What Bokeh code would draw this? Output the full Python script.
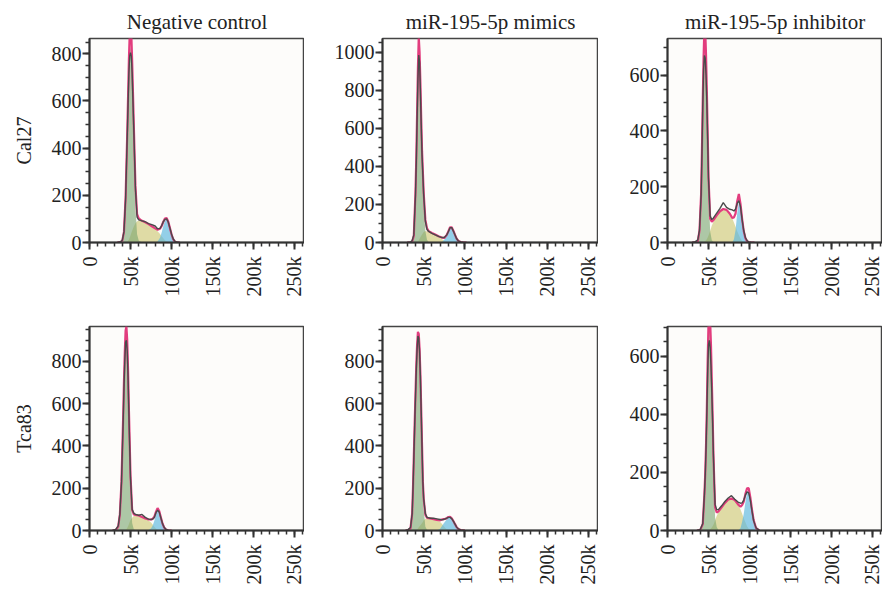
from math import pi
from bokeh.plotting import figure
from bokeh.layouts import gridplot
from bokeh.models import Range1d, SingleIntervalTicker
from bokeh.embed import file_html
from bokeh.resources import INLINE

col_titles = ["Negative control", "miR-195-5p mimics", "miR-195-5p inhibitor"]
row_labels = ["Cal27", "Tca83"]
x_tick_values = [0, 50, 100, 150, 200, 250]
x_tick_labels = ["0", "50k", "100k", "150k", "200k", "250k"]
y_max = [865, 1072, 731, 965, 965, 703]

# ---- Cal27, negative control (x in thousands) ----
cal27_nc_x = [34, 38, 40, 42, 44, 46, 48, 49, 50, 51, 52, 54, 56, 58, 60, 64, 68, 72, 76, 80, 83, 86, 88, 90, 92, 94, 96, 98, 100, 102, 104, 106, 110]
cal27_nc_g1 = [0, 0, 5, 40, 185, 450, 740, 810, 830, 800, 700, 420, 150, 35, 8, 0, 0, 0, 0, 0, 0, 0, 0, 0, 0, 0, 0, 0, 0, 0, 0, 0, 0]
cal27_nc_s = [0, 0, 0, 0, 0, 3, 12, 20, 30, 40, 50, 68, 82, 90, 92, 90, 85, 77, 68, 58, 48, 36, 27, 18, 10, 4, 1, 0, 0, 0, 0, 0, 0]
cal27_nc_g2 = [0, 0, 0, 0, 0, 0, 0, 0, 0, 0, 0, 0, 0, 0, 0, 0, 0, 0, 0, 0, 4, 20, 42, 70, 92, 100, 88, 62, 35, 14, 4, 1, 0]
cal27_nc_fit = [0, 2, 8, 45, 190, 460, 770, 880, 940, 880, 770, 500, 240, 120, 102, 92, 86, 78, 69, 60, 54, 58, 70, 88, 102, 104, 89, 62, 35, 14, 4, 1, 0]
cal27_nc_data = [0, 3, 10, 45, 185, 450, 720, 790, 805, 790, 720, 480, 230, 108, 96, 92, 88, 80, 76, 70, 58, 60, 72, 88, 98, 100, 87, 62, 36, 16, 6, 2, 0]

# ---- Cal27, miR-195-5p mimics ----
cal27_mim_x = [30, 34, 36, 38, 40, 41, 42, 43, 44, 45, 46, 47, 48, 50, 52, 54, 56, 60, 64, 68, 72, 75, 78, 80, 82, 84, 86, 88, 90, 92, 95, 98, 102]
cal27_mim_g1 = [0, 0, 3, 30, 250, 430, 670, 880, 990, 970, 800, 600, 430, 200, 60, 15, 2, 0, 0, 0, 0, 0, 0, 0, 0, 0, 0, 0, 0, 0, 0, 0, 0]
cal27_mim_s = [0, 0, 0, 0, 0, 0, 0, 5, 12, 20, 28, 35, 42, 55, 60, 58, 55, 48, 40, 30, 18, 8, 2, 0, 0, 0, 0, 0, 0, 0, 0, 0, 0]
cal27_mim_g2 = [0, 0, 0, 0, 0, 0, 0, 0, 0, 0, 0, 0, 0, 0, 0, 0, 0, 0, 0, 0, 3, 14, 38, 60, 80, 78, 60, 38, 18, 7, 1, 0, 0]
cal27_mim_fit = [0, 0, 5, 35, 260, 440, 680, 920, 1080, 1000, 840, 650, 480, 260, 120, 75, 60, 50, 42, 33, 26, 24, 40, 60, 80, 80, 62, 40, 20, 8, 2, 0, 0]
cal27_mim_data = [0, 3, 10, 40, 250, 420, 650, 860, 985, 950, 800, 620, 460, 250, 112, 68, 58, 48, 40, 32, 26, 26, 40, 58, 78, 78, 60, 40, 20, 9, 3, 1, 0]

# ---- Cal27, miR-195-5p inhibitor ----
cal27_inh_x = [30, 34, 37, 39, 41, 42, 43, 44, 45, 46, 47, 48, 49, 50, 52, 54, 56, 60, 64, 68, 72, 76, 79, 81, 83, 85, 87, 89, 91, 93, 95, 97, 99, 102, 106]
cal27_inh_g1 = [0, 0, 5, 40, 170, 320, 500, 650, 690, 690, 640, 510, 360, 200, 40, 8, 2, 0, 0, 0, 0, 0, 0, 0, 0, 0, 0, 0, 0, 0, 0, 0, 0, 0, 0]
cal27_inh_s = [0, 0, 0, 0, 0, 0, 0, 0, 3, 5, 8, 12, 18, 25, 42, 60, 74, 96, 112, 120, 116, 102, 86, 72, 56, 40, 27, 14, 5, 1, 0, 0, 0, 0, 0]
cal27_inh_g2 = [0, 0, 0, 0, 0, 0, 0, 0, 0, 0, 0, 0, 0, 0, 0, 0, 0, 0, 0, 0, 0, 0, 0, 12, 45, 105, 146, 122, 78, 38, 14, 4, 0, 0, 0]
cal27_inh_fit = [0, 0, 6, 42, 175, 330, 510, 665, 770, 760, 670, 540, 390, 235, 85, 75, 80, 97, 112, 120, 117, 103, 88, 90, 104, 148, 174, 138, 84, 40, 15, 5, 1, 0, 0]
cal27_inh_data = [0, 3, 10, 45, 170, 320, 490, 620, 670, 660, 600, 500, 370, 230, 95, 82, 88, 105, 122, 143, 126, 119, 117, 113, 120, 140, 150, 128, 82, 42, 18, 7, 2, 1, 0]

# ---- Tca83, negative control ----
tca83_nc_x = [28, 32, 35, 37, 39, 40, 41, 42, 43, 44, 45, 46, 47, 48, 49, 50, 52, 54, 56, 60, 64, 68, 72, 75, 77, 79, 81, 83, 85, 87, 89, 91, 93, 96, 100]
tca83_nc_g1 = [0, 2, 18, 75, 230, 380, 530, 700, 830, 915, 920, 850, 720, 540, 380, 200, 35, 6, 1, 0, 0, 0, 0, 0, 0, 0, 0, 0, 0, 0, 0, 0, 0, 0, 0]
tca83_nc_s = [0, 0, 0, 0, 0, 0, 0, 0, 0, 0, 5, 12, 20, 30, 40, 50, 60, 68, 72, 70, 64, 56, 47, 38, 28, 18, 10, 4, 1, 0, 0, 0, 0, 0, 0]
tca83_nc_g2 = [0, 0, 0, 0, 0, 0, 0, 0, 0, 0, 0, 0, 0, 0, 0, 0, 0, 0, 0, 0, 0, 0, 2, 10, 22, 45, 78, 100, 90, 62, 33, 14, 5, 1, 0]
tca83_nc_fit = [0, 2, 18, 75, 230, 380, 530, 700, 840, 945, 965, 900, 760, 580, 420, 260, 96, 76, 74, 71, 64, 57, 52, 52, 55, 65, 88, 106, 92, 62, 33, 14, 5, 1, 0]
tca83_nc_data = [0, 5, 22, 78, 230, 370, 510, 670, 800, 890, 900, 850, 730, 560, 400, 250, 100, 82, 76, 72, 76, 62, 54, 52, 54, 62, 84, 96, 88, 60, 33, 15, 6, 2, 0]

# ---- Tca83, miR-195-5p mimics ----
tca83_mim_x = [28, 31, 34, 36, 37, 38, 39, 40, 41, 42, 43, 44, 45, 46, 47, 48, 49, 50, 52, 54, 58, 62, 66, 70, 72, 74, 76, 78, 80, 82, 84, 86, 88, 90, 92, 95, 100]
tca83_mim_g1 = [0, 2, 10, 78, 195, 340, 490, 630, 770, 870, 920, 910, 840, 715, 540, 365, 190, 100, 18, 3, 0, 0, 0, 0, 0, 0, 0, 0, 0, 0, 0, 0, 0, 0, 0, 0, 0]
tca83_mim_s = [0, 0, 0, 0, 0, 0, 0, 0, 2, 5, 10, 15, 20, 25, 30, 35, 40, 48, 56, 56, 55, 52, 48, 40, 32, 22, 13, 6, 2, 0, 0, 0, 0, 0, 0, 0, 0]
tca83_mim_g2 = [0, 0, 0, 0, 0, 0, 0, 0, 0, 0, 0, 0, 0, 0, 0, 0, 0, 0, 0, 0, 0, 0, 0, 8, 20, 32, 42, 52, 62, 65, 58, 45, 30, 16, 7, 2, 0]
tca83_mim_fit = [0, 2, 10, 80, 200, 350, 500, 640, 780, 880, 940, 930, 860, 740, 570, 400, 230, 150, 75, 60, 57, 54, 50, 48, 52, 54, 55, 58, 64, 65, 58, 45, 30, 16, 7, 2, 0]
tca83_mim_data = [0, 4, 14, 80, 195, 340, 490, 630, 760, 860, 920, 910, 850, 730, 560, 390, 230, 150, 80, 62, 58, 58, 55, 52, 50, 52, 55, 58, 62, 62, 56, 44, 30, 16, 8, 3, 0]

# ---- Tca83, miR-195-5p inhibitor ----
tca83_inh_x = [36, 40, 43, 45, 46, 47, 48, 49, 50, 51, 52, 53, 54, 55, 56, 57, 58, 60, 62, 66, 70, 74, 78, 82, 86, 89, 91, 93, 95, 97, 99, 101, 103, 105, 108, 112]
tca83_inh_g1 = [0, 2, 20, 120, 190, 290, 420, 580, 700, 730, 690, 620, 500, 380, 240, 140, 45, 12, 2, 0, 0, 0, 0, 0, 0, 0, 0, 0, 0, 0, 0, 0, 0, 0, 0, 0]
tca83_inh_s = [0, 0, 0, 0, 0, 0, 0, 0, 0, 2, 4, 7, 10, 15, 20, 27, 35, 50, 62, 80, 95, 107, 112, 106, 90, 72, 58, 42, 28, 15, 6, 2, 0, 0, 0, 0]
tca83_inh_g2 = [0, 0, 0, 0, 0, 0, 0, 0, 0, 0, 0, 0, 0, 0, 0, 0, 0, 0, 0, 0, 0, 0, 0, 0, 0, 8, 30, 58, 98, 130, 138, 112, 72, 36, 8, 0]
tca83_inh_fit = [0, 2, 22, 125, 195, 295, 425, 590, 715, 760, 720, 640, 520, 400, 265, 170, 80, 62, 65, 80, 95, 107, 110, 105, 90, 82, 88, 100, 126, 145, 146, 114, 72, 36, 8, 0]
tca83_inh_data = [0, 4, 24, 125, 190, 285, 410, 550, 640, 655, 630, 570, 480, 380, 260, 170, 90, 72, 72, 85, 100, 112, 120, 108, 98, 94, 95, 105, 122, 133, 130, 105, 68, 34, 9, 1]

panels = [
    (cal27_nc_x, cal27_nc_g1, cal27_nc_s, cal27_nc_g2, cal27_nc_fit, cal27_nc_data),
    (cal27_mim_x, cal27_mim_g1, cal27_mim_s, cal27_mim_g2, cal27_mim_fit, cal27_mim_data),
    (cal27_inh_x, cal27_inh_g1, cal27_inh_s, cal27_inh_g2, cal27_inh_fit, cal27_inh_data),
    (tca83_nc_x, tca83_nc_g1, tca83_nc_s, tca83_nc_g2, tca83_nc_fit, tca83_nc_data),
    (tca83_mim_x, tca83_mim_g1, tca83_mim_s, tca83_mim_g2, tca83_mim_fit, tca83_mim_data),
    (tca83_inh_x, tca83_inh_g1, tca83_inh_s, tca83_inh_g2, tca83_inh_fit, tca83_inh_data),
]

FONT = "Liberation Serif"
frame_w = [215, 216, 215]
border_left = [89, 78, 69]
row_top = [38, 26]
row_bottom = [58, 62]

figs = []
for i, (x, g1, s, g2, fit, data) in enumerate(panels):
    r, c = divmod(i, 3)
    p = figure(frame_width=frame_w[c], frame_height=204,
               x_range=Range1d(0, 262.144), y_range=Range1d(0, y_max[i]),
               min_border_left=border_left[c], min_border_right=0,
               min_border_top=row_top[r], min_border_bottom=row_bottom[r],
               output_backend="svg", toolbar_location=None, tools="",
               background_fill_color="#fdfcfa", border_fill_color="white",
               outline_line_color="#444444", outline_line_width=1.5)
    p.xgrid.visible = False
    p.ygrid.visible = False

    p.varea(x=x, y1=0, y2=s, fill_color="#cfca78", fill_alpha=0.65)
    p.varea(x=x, y1=0, y2=g2, fill_color="#5ab7df", fill_alpha=0.65)
    p.varea(x=x, y1=0, y2=g1, fill_color="#78a36e", fill_alpha=0.6)
    p.line(x=x, y=fit, line_color="#e23d7e", line_width=2.2)
    p.line(x=x, y=data, line_color="#4a4a4a", line_width=1.4)

    xa = p.xaxis[0]
    xa.ticker = SingleIntervalTicker(interval=50, num_minor_ticks=5)
    xa.major_label_overrides = dict(zip(x_tick_values, x_tick_labels))
    xa.major_label_orientation = pi / 2
    ya = p.yaxis[0]
    ya.ticker = SingleIntervalTicker(interval=200, num_minor_ticks=4)
    for ax in (xa, ya):
        ax.axis_line_color = "#333333"
        ax.axis_line_width = 2
        ax.major_tick_line_color = "#333333"
        ax.major_tick_line_width = 2
        ax.minor_tick_line_color = "#333333"
        ax.minor_tick_line_width = 1.5
        ax.major_tick_in = 0
        ax.minor_tick_in = 0
        ax.major_tick_out = 7
        ax.minor_tick_out = 4
        ax.major_label_text_font = FONT
        ax.major_label_text_font_size = "20px"
        ax.major_label_text_color = "#222222"
    xa.major_label_standoff = 7
    ya.major_label_standoff = 1

    if c == 0:
        ya.axis_label = row_labels[r]
        ya.axis_label_text_font = FONT
        ya.axis_label_text_font_size = "20px"
        ya.axis_label_text_font_style = "normal"
        ya.axis_label_text_color = "#222222"
        ya.axis_label_standoff = 14
    if r == 0:
        p.title.text = col_titles[c]
        p.title.align = "center"
        p.title.text_font = FONT
        p.title.text_font_size = "21px"
        p.title.text_font_style = "normal"
        p.title.text_color = "#222222"
    figs.append(p)

grid = gridplot([figs[0:3], figs[3:6]], toolbar_location=None)
open("out.html", "w").write(file_html(grid, INLINE))
